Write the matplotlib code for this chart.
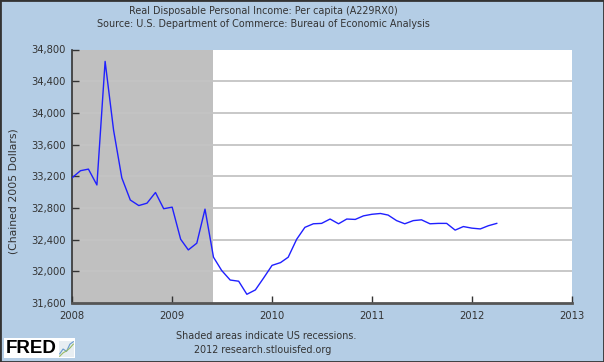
import pandas as pd
import matplotlib
matplotlib.use("Agg")
import matplotlib.pyplot as plt
from matplotlib.patches import Rectangle

# Real disposable personal income per capita, monthly from Jan 2008
ingreso = [33180, 33270, 33290, 33090, 34650, 33780, 33180, 32900, 32830, 32860,
           32995, 32790, 32810, 32405, 32270, 32355, 32785, 32178, 32010, 31890,
           31875, 31710, 31765, 31915, 32075, 32110, 32178, 32405, 32555, 32600,
           32605, 32660, 32600, 32660, 32655, 32700, 32720, 32730, 32710, 32640,
           32600, 32640, 32650, 32600, 32605, 32605, 32520, 32565, 32545, 32535,
           32575, 32605]
fechas = pd.date_range("2008-01-01", periods=len(ingreso), freq="MS")
recesion = ("2007-12-01", "2009-06-01")
anios = [2008, 2009, 2010, 2011, 2012, 2013]
yticks = [31600, 32000, 32400, 32800, 33200, 33600, 34000, 34400, 34800]

fondo = "#B4CDE5"
texto = "#333333"

fig = plt.figure(figsize=(6.04, 3.62), dpi=100, facecolor=fondo)
ax = fig.add_axes([72 / 604, 59 / 362, 500 / 604, 253.5 / 362])
ax.set_facecolor("white")

ax.axvspan(pd.Timestamp(recesion[0]), pd.Timestamp(recesion[1]), color="#C0C0C0", lw=0, zorder=0)

for v in yticks[1:-1]:
    ax.axhline(v, color="#C4C4C4", lw=1.3, zorder=1)

ax.plot(fechas, ingreso, color="#2020FF", lw=1.0, zorder=3)

ax.set_xlim(pd.Timestamp("2008-01-01"), pd.Timestamp("2013-01-01"))
ax.set_ylim(31600, 34800)
ax.set_yticks(yticks)
ax.set_yticklabels([f"{v:,}" for v in yticks])
ax.set_xticks([pd.Timestamp(f"{a}-01-01") for a in anios])
ax.set_xticklabels([str(a) for a in anios])
ax.tick_params(direction="in", length=5, width=1, color="#333333",
               labelsize=7.2, labelcolor=texto)
ax.tick_params(axis="y", pad=4.5)
ax.tick_params(axis="x", pad=6)

for lado in ["top", "right"]:
    ax.spines[lado].set_visible(False)
ax.spines["left"].set_color("#333333")
ax.spines["left"].set_linewidth(1.2)
ax.spines["bottom"].set_color("#555555")
ax.spines["bottom"].set_linewidth(2)

fig.text(14 / 604, 1 - 191 / 362, "(Chained 2005 Dollars)", rotation=90,
         ha="center", va="center", fontsize=7.8, color=texto)

fig.text(263 / 604, 1 - 11 / 362, "Real Disposable Personal Income: Per capita (A229RX0)",
         ha="center", va="center", fontsize=6.9, color=texto)
fig.text(263 / 604, 1 - 24 / 362, "Source: U.S. Department of Commerce: Bureau of Economic Analysis",
         ha="center", va="center", fontsize=6.9, color=texto)
fig.text(266 / 604, 1 - 336 / 362, "Shaded areas indicate US recessions.",
         ha="center", va="center", fontsize=6.9, color=texto)
fig.text(263 / 604, 1 - 350 / 362, "2012 research.stlouisfed.org",
         ha="center", va="center", fontsize=6.9, color=texto)

# logo FRED
fig.patches.append(Rectangle((4 / 604, 1 - 358 / 362), 71 / 604, 20 / 362,
                             transform=fig.transFigure, facecolor="white",
                             edgecolor="none", zorder=-1))
fig.text(6 / 604, 1 - 348.5 / 362, "FRED", ha="left", va="center", fontsize=13.5,
         fontweight="bold", color="black", family="Liberation Sans")
logo = fig.add_axes([59 / 604, 1 - 357 / 362, 15 / 604, 16 / 362])
logo.set_zorder(5)
logo.set_facecolor("#E8EEF2")
logo.plot([0, 1, 2, 3, 4], [1, 2, 1.5, 3, 3.5], color="#6699CC", lw=0.8)
logo.plot([0, 1, 2, 3, 4], [0.5, 1.2, 1.6, 2.2, 3], color="#99BB66", lw=0.8)
logo.set_xticks([])
logo.set_yticks([])
for s in logo.spines.values():
    s.set_visible(False)

fig.patches.append(Rectangle((0, 0), 1, 1, transform=fig.transFigure,
                             fill=False, edgecolor="#333333", lw=2, zorder=10))

fig.savefig("out.png", dpi=100, facecolor=fondo)
